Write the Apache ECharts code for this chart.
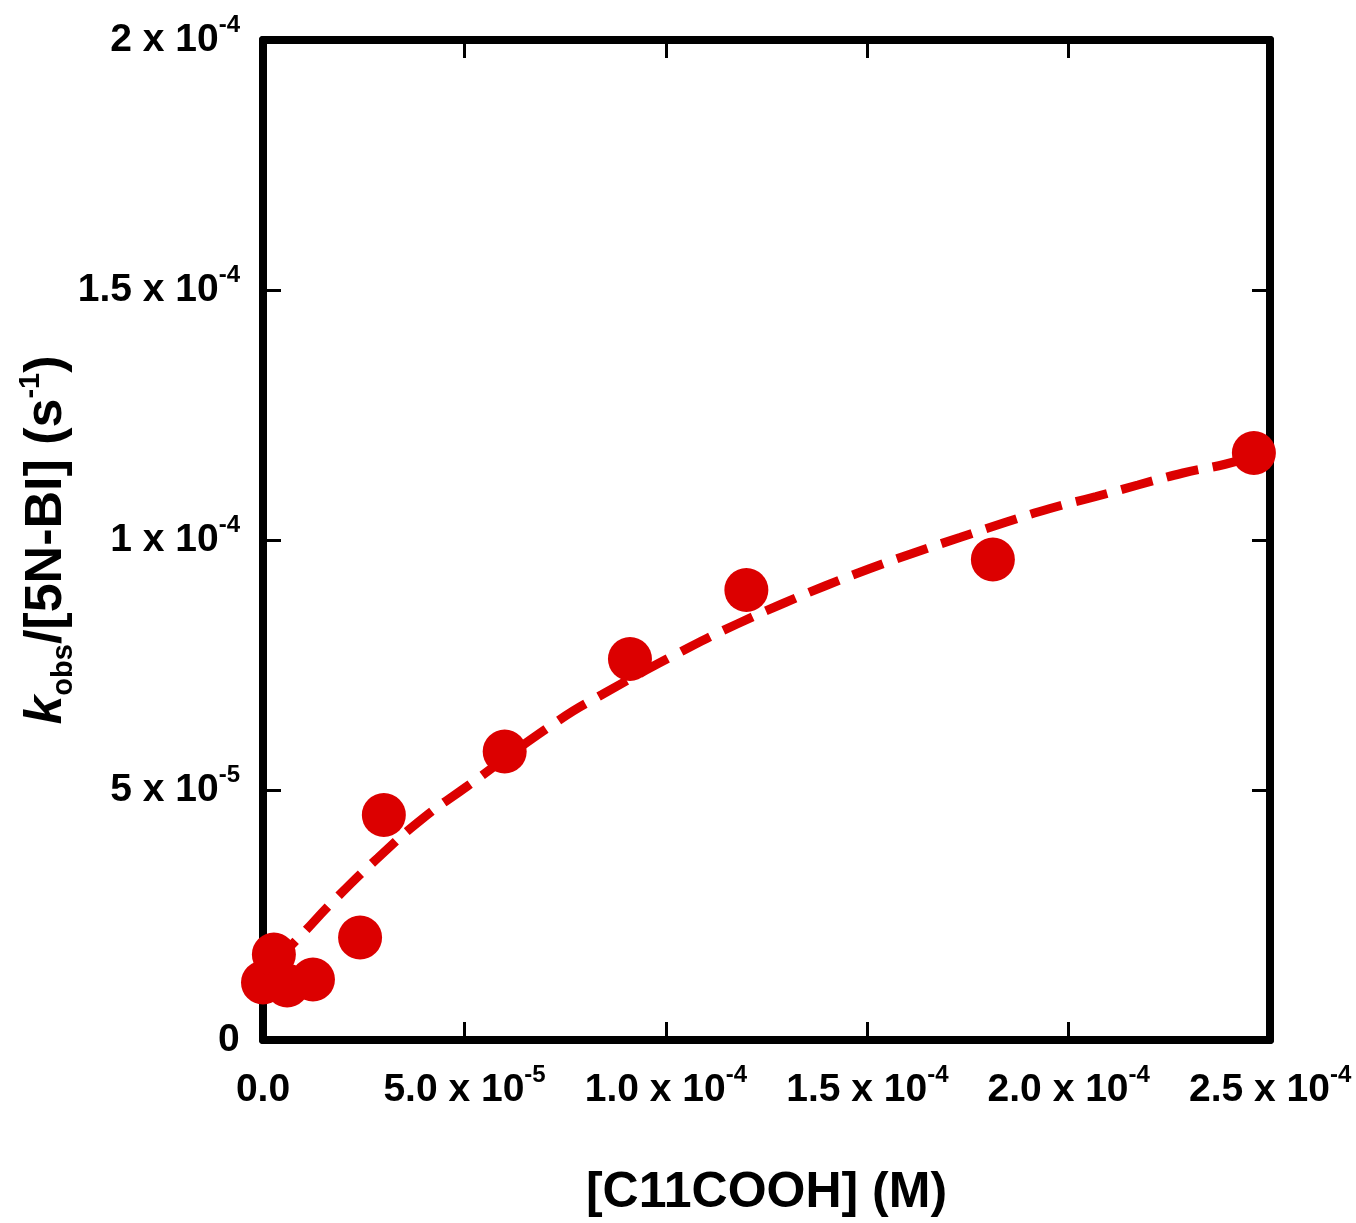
<!DOCTYPE html>
<html>
<head>
<meta charset="utf-8">
<script src="https://cdn.jsdelivr.net/npm/echarts@6/dist/echarts.min.js"></script>
<style>
html,body{margin:0;padding:0;background:#fff;}
#chart{width:1356px;height:1223px;}
</style>
</head>
<body>
<div id="chart"></div>
<script>
// Measured data: [C11COOH] (M) vs kobs/[5N-BI] (s^-1)
const concX = [0, 2.7e-6, 6.0e-6, 1.24e-5, 2.41e-5, 3.0e-5, 6.0e-5, 9.11e-5, 1.2e-4, 1.812e-4, 2.46e-4];
const kRatio = [1.15e-5, 1.71e-5, 1.09e-5, 1.21e-5, 2.05e-5, 4.5e-5, 5.77e-5, 7.62e-5, 9.0e-5, 9.61e-5, 1.174e-4];

// Fitted curve (dashed)
const fitX = [2.5e-6, 8.7e-6, 1.76e-5, 2.85e-5, 3.95e-5, 5.06e-5, 7.30e-5, 8.42e-5, 1.060e-4, 1.177e-4, 1.288e-4, 1.398e-4, 1.507e-4, 1.619e-4, 1.730e-4, 1.842e-4, 1.954e-4, 2.068e-4, 2.172e-4, 2.284e-4, 2.391e-4, 2.460e-4];
const fitY = [1.53e-5, 2.03e-5, 2.79e-5, 3.64e-5, 4.42e-5, 5.07e-5, 6.37e-5, 6.91e-5, 7.86e-5, 8.32e-5, 8.72e-5, 9.09e-5, 9.43e-5, 9.75e-5, 1.005e-4, 1.035e-4, 1.063e-4, 1.087e-4, 1.110e-4, 1.134e-4, 1.152e-4, 1.168e-4];

// Tick labels
const xTickBase = ['0.0', '5.0 x 10', '1.0 x 10', '1.5 x 10', '2.0 x 10', '2.5 x 10'];
const xTickExp  = ['', '-5', '-4', '-4', '-4', '-4'];
const yTickBase = ['0', '5 x 10', '1 x 10', '1.5 x 10', '2 x 10'];
const yTickExp  = ['', '-5', '-4', '-4', '-4'];

const X_MAX = 2.5e-4, X_INT = 5e-5;
const Y_MAX = 2e-4, Y_INT = 5e-5;

const RED = '#dc0000';
const FONT = '"Liberation Sans", Arial, sans-serif';

const tickRich = {
  m: { fontFamily: FONT, fontWeight: 'bold', fontSize: 39, lineHeight: 39, color: '#000' },
  sup: { fontFamily: FONT, fontWeight: 'bold', fontSize: 24, lineHeight: 24, color: '#000', verticalAlign: 'top' },
  st: { fontFamily: FONT, fontSize: 1, lineHeight: 54, color: 'rgba(0,0,0,0)' }
};
function mkLabel(base, exp) {
  return '{st|\u00a0}{m|' + base + '}' + (exp === '' ? '{st|\u00a0}' : '{sup|' + exp + '}');
}

const pairs = concX.map((x, i) => [x, kRatio[i]]);
const fitPairs = fitX.map((x, i) => [x, fitY[i]]);

const axisLine = { show: true, onZero: false, lineStyle: { color: '#000', width: 8 } };
const axisTick = { show: true, inside: true, length: 18, lineStyle: { color: '#000', width: 3 } };

const chart = echarts.init(document.getElementById('chart'), null, { renderer: 'canvas' });
chart.setOption({
  animation: false,
  backgroundColor: '#fff',
  grid: { left: 263, right: 86, top: 40, bottom: 178, containLabel: false },
  xAxis: [
    {
      type: 'value', min: 0, max: X_MAX, interval: X_INT, position: 'bottom',
      axisLine, axisTick, splitLine: { show: false },
      axisLabel: {
        margin: 23,
        formatter: (v) => { const i = Math.round(v / X_INT); return mkLabel(xTickBase[i], xTickExp[i]); },
        rich: tickRich
      },
      name: '[C11COOH] (M)', nameLocation: 'middle', nameGap: 128,
      nameTextStyle: { fontFamily: FONT, fontWeight: 'bold', fontSize: 50, color: '#000' }
    },
    {
      type: 'value', min: 0, max: X_MAX, interval: X_INT, position: 'top',
      axisLine, axisTick, splitLine: { show: false }, axisLabel: { show: false }
    }
  ],
  yAxis: [
    {
      type: 'value', min: 0, max: Y_MAX, interval: Y_INT, position: 'left',
      axisLine, axisTick, splitLine: { show: false },
      axisLabel: {
        margin: 23,
        formatter: (v) => { const i = Math.round(v / Y_INT); return mkLabel(yTickBase[i], yTickExp[i]); },
        rich: tickRich
      },
      name: '{k|k}{sub|obs}{m|/[5N-BI] (s}{sup|-1}{m|)}',
      nameLocation: 'middle', nameGap: 185, nameMoveOverlap: false,
      nameTextStyle: {
        color: '#000',
        rich: {
          k: { fontFamily: FONT, fontWeight: 'bold', fontStyle: 'italic', fontSize: 52, lineHeight: 62, color: '#000' },
          m: { fontFamily: FONT, fontWeight: 'bold', fontSize: 52, lineHeight: 62, color: '#000' },
          sub: { fontFamily: FONT, fontWeight: 'bold', fontSize: 29, lineHeight: 29, color: '#000', verticalAlign: 'bottom' },
          sup: { fontFamily: FONT, fontWeight: 'bold', fontSize: 29, lineHeight: 36, color: '#000', verticalAlign: 'top' }
        }
      }
    },
    {
      type: 'value', min: 0, max: Y_MAX, interval: Y_INT, position: 'right',
      axisLine, axisTick, splitLine: { show: false }, axisLabel: { show: false }
    }
  ],
  series: [
    {
      type: 'line', xAxisIndex: 0, yAxisIndex: 0, data: fitPairs,
      showSymbol: false, smooth: true, z: 2,
      lineStyle: { color: RED, width: 9, type: [32, 15], cap: 'butt' }
    },
    {
      type: 'scatter', xAxisIndex: 0, yAxisIndex: 0, data: pairs,
      symbol: 'circle', symbolSize: 44, z: 3,
      itemStyle: { color: RED, opacity: 1 }
    }
  ]
});
</script>
</body>
</html>
